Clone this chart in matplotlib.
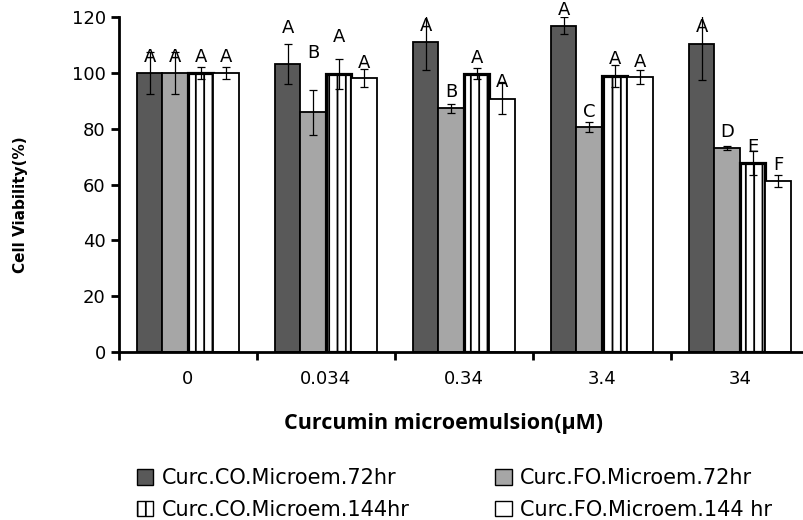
import numpy as np
import matplotlib.pyplot as plt
from matplotlib.patches import Patch

concentrations = ["0", "0.034", "0.34", "3.4", "34"]
series_names = ["Curc.CO.Microem.72hr", "Curc.FO.Microem.72hr",
                "Curc.CO.Microem.144hr", "Curc.FO.Microem.144 hr"]

co_72 = [100, 103.2, 111, 117, 110.5]
fo_72 = [100, 85.9, 87.3, 80.6, 73.2]
co_144 = [100, 99.6, 99.8, 98.9, 67.7]
fo_144 = [100, 98.1, 90.8, 98.6, 61.3]

co_72_err = [7.5, 7.2, 10, 3, 13]
fo_72_err = [7.5, 8, 1.6, 1.7, 0.7]
co_144_err = [2, 5.3, 2, 3.9, 4.2]
fo_144_err = [2, 3.2, 5.5, 2.5, 2.2]

# significance letters and the height their baseline sits at
co_72_sig = ["A", "A", "A", "A", "A"]
fo_72_sig = ["A", "B", "B", "C", "D"]
co_144_sig = ["A", "A", "A", "A", "E"]
fo_144_sig = ["A", "A", "A", "A", "F"]

co_72_sig_y = [104, 114.3, 115, 120.8, 114.7]
fo_72_sig_y = [104, 105.4, 91.4, 84.2, 77]
co_144_sig_y = [104, 111, 103.6, 103.2, 71.7]
fo_144_sig_y = [104, 101.8, 95, 102.2, 65.2]

values = [co_72, fo_72, co_144, fo_144]
errors = [co_72_err, fo_72_err, co_144_err, fo_144_err]
letters = [co_72_sig, fo_72_sig, co_144_sig, fo_144_sig]
letter_y = [co_72_sig_y, fo_72_sig_y, co_144_sig_y, fo_144_sig_y]

styles = [
    dict(facecolor="#595959", linewidth=1.3, hatch=None),
    dict(facecolor="#a6a6a6", linewidth=1.3, hatch=None),
    dict(facecolor="white", linewidth=2.3, hatch="||"),
    dict(facecolor="white", linewidth=1.3, hatch=None),
]

plt.rcParams["hatch.linewidth"] = 1.3

fig = plt.figure(figsize=(8.04, 5.2), dpi=100)
ax = fig.add_axes([0.148, 0.323, 0.858, 0.644])

x = np.arange(len(concentrations))
width = 0.185
offsets = (np.arange(4) - 1.5) * width

for vals, errs, sig, sy, st, off in zip(values, errors, letters, letter_y, styles, offsets):
    ax.bar(x + off, vals, width, facecolor=st["facecolor"], edgecolor="black",
           linewidth=st["linewidth"], hatch=st["hatch"], zorder=2)
    ax.errorbar(x + off, vals, yerr=errs, fmt="none", ecolor="black",
                elinewidth=0.9, capsize=3, capthick=0.9, zorder=3)
    for xi, yi, s in zip(x + off, sy, sig):
        ax.text(xi, yi, s, ha="center", va="baseline", fontsize=13,
                family="DejaVu Sans", zorder=4, clip_on=False)

ax.set_xlim(-0.5, 4.5)
ax.set_ylim(0, 120)
ax.set_yticks(range(0, 121, 20))
ax.set_xticks(x)
ax.set_xticklabels(concentrations, fontsize=13)
ax.set_xticks(np.arange(-0.5, 4.6, 1), minor=True)
ax.tick_params(axis="x", which="major", length=0, pad=13)
ax.tick_params(axis="x", which="minor", length=6, width=2, direction="out")
ax.tick_params(axis="y", labelsize=13, length=6, width=2, direction="out")

for side in ["top", "right"]:
    ax.spines[side].set_visible(False)
ax.spines["left"].set_linewidth(2)
ax.spines["bottom"].set_linewidth(2)

ax.set_ylabel("Cell Viability(%)", fontsize=11, fontweight="bold",
              family="Liberation Sans Narrow", va="center", ha="center")
ax.yaxis.set_label_coords(-0.143, 0.44)
ax.set_xlabel("Curcumin microemulsion(\u00b5M)", fontsize=15.5, fontweight="bold",
              family="Open Sans", va="center", ha="center")
ax.xaxis.set_label_coords(0.47, -0.212)

# legend fills row by row: 72hr pair on top, 144hr pair below
order = [0, 2, 1, 3]
handles = [Patch(facecolor=styles[i]["facecolor"], edgecolor="black", linewidth=1.0,
                 hatch=styles[i]["hatch"]) for i in order]
labels = [series_names[i] for i in order]
fig.legend(handles, labels, loc="center left", bbox_to_anchor=(0.17, 0.05),
           ncol=2, frameon=False, handlelength=0.8, handleheight=0.8,
           handletextpad=0.4, columnspacing=4.1, labelspacing=0.55,
           borderaxespad=0, borderpad=0,
           prop={"family": "DejaVu Sans", "size": 15})

fig.savefig("out.png", dpi=100)
